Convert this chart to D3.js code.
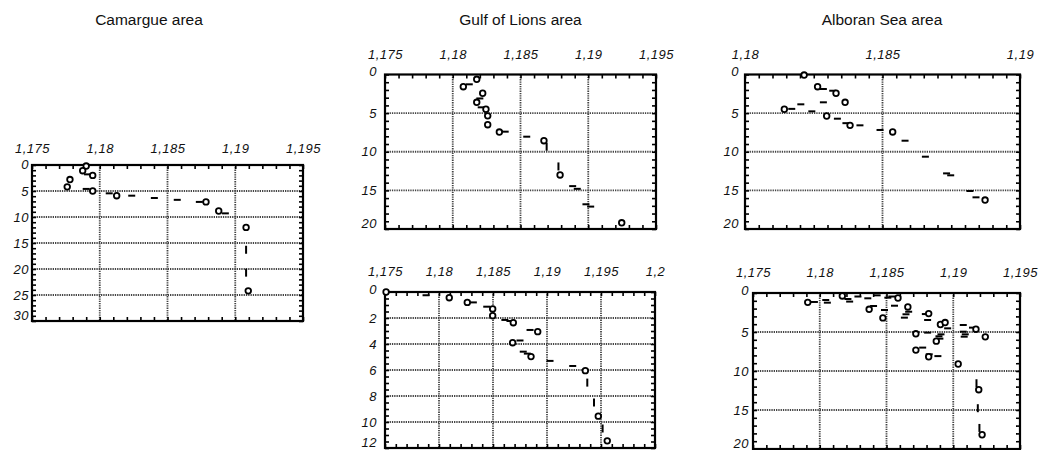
<!DOCTYPE html>
<html><head><meta charset="utf-8">
<script src="https://cdn.jsdelivr.net/npm/d3@7"></script>
<style>
body{margin:0;background:#fff;}
svg{display:block;font-family:"Liberation Sans",Arial,Helvetica,sans-serif;}
</style></head><body>
<svg id="chart" width="1046" height="450"></svg>
<script>
// ---------- DATA (density, depth) ----------
const titles = ["Camargue area", "Gulf of Lions area", "Alboran Sea area"];

// tick values
const xTicksA = [1.175, 1.18, 1.185, 1.19, 1.195];
const xTicksB = [1.175, 1.18, 1.185, 1.19, 1.195, 1.2];
const xTicksC = [1.18, 1.185, 1.19];
const yTicks30 = [0, 5, 10, 15, 20, 25, 30];
const yTicks20 = [0, 5, 10, 15, 20];
const yTicks12 = [0, 2, 4, 6, 8, 10, 12];

// Camargue
const camargueCircles = [[1.1790,0.2],[1.17874,1.1],[1.17948,2.0],[1.1778,2.8],[1.1776,4.2],[1.17948,5.0],[1.18125,5.9],[1.18784,7.1],[1.18878,8.85],[1.1908,12.0],[1.19096,24.2]];
const camargueDashH = [[1.1791,1.8],[1.1790,4.6],[1.1807,5.45],[1.18236,5.9],[1.18403,6.35],[1.18572,6.7],[1.18735,7.1],[1.18927,9.3]];
const camargueDashV = [[1.1908,16.3],[1.1908,20.7]];

// Gulf of Lions (upper)
const lionsACircles = [[1.18078,1.58],[1.18177,0.62],[1.18221,2.43],[1.18177,3.6],[1.18245,4.5],[1.18258,5.35],[1.18258,6.5],[1.18344,7.45],[1.18673,8.57],[1.18792,13.0],[1.19247,19.2]];
const lionsADashH = [[1.18122,1.27],[1.1820,3.1],[1.1821,4.25],[1.18387,7.4],[1.18546,8.05],[1.18885,14.45],[1.18919,14.8],[1.18983,16.8],[1.19018,17.1]];
const lionsADashV = [[1.18693,9.35],[1.1878,11.9]];

// Gulf of Lions (lower)
const lionsBCircles = [[1.1751,0.0],[1.18095,0.44],[1.18262,0.8],[1.18497,1.3],[1.18497,1.82],[1.18688,2.36],[1.18914,3.05],[1.18682,3.9],[1.18852,4.97],[1.19355,6.05],[1.19475,9.55],[1.19558,11.45]];
const lionsBDashH = [[1.1788,0.25],[1.18318,0.8],[1.18442,1.13],[1.1861,2.15],[1.18657,2.23],[1.18843,2.92],[1.1875,3.73],[1.1878,4.59],[1.18818,4.74],[1.19028,5.3],[1.19238,5.69]];
const lionsBDashV = [[1.19373,6.97],[1.19435,8.5],[1.19515,10.5]];

// Alboran Sea (upper)
const alboranACircles = [[1.18215,0.07],[1.18264,1.58],[1.18331,2.43],[1.18364,3.6],[1.18143,4.5],[1.18297,5.37],[1.18382,6.58],[1.18537,7.44],[1.18873,16.25]];
const alboranADashH = [[1.18285,1.88],[1.18319,2.1],[1.18285,3.6],[1.18203,3.86],[1.1817,4.45],[1.18243,4.77],[1.18336,5.72],[1.18367,6.3],[1.18418,6.58],[1.18491,7.18],[1.18582,8.57],[1.18656,10.64],[1.18733,12.8],[1.18748,13.05],[1.18818,15.08],[1.1884,15.9]];
const alboranADashV = [];

// Alboran Sea (lower)
const alboranBCircles = [[1.1791,1.2],[1.18169,0.38],[1.1837,2.09],[1.18473,3.19],[1.18586,0.64],[1.1866,1.79],[1.18816,2.64],[1.18904,4.04],[1.18939,3.79],[1.1872,5.23],[1.18873,6.17],[1.1872,7.32],[1.18816,8.17],[1.19037,9.1],[1.1917,4.64],[1.1924,5.62],[1.19191,12.4],[1.19216,18.17]];
const alboranBDashH = [[1.1796,1.15],[1.18045,0.9],[1.18057,1.24],[1.18211,0.77],[1.18224,1.1],[1.18286,0.45],[1.1836,0.68],[1.1843,0.3],[1.1851,0.6],[1.1854,0.45],[1.18403,1.67],[1.18485,2.18],[1.1856,1.63],[1.18666,2.4],[1.18646,2.73],[1.18634,3.16],[1.18791,2.7],[1.18808,3.46],[1.18958,4.53],[1.18808,5.08],[1.18908,5.3],[1.18893,5.55],[1.1890,5.85],[1.18771,7.0],[1.1882,7.86],[1.18885,8.09],[1.19075,4.1],[1.19075,4.96],[1.1909,5.3],[1.19082,5.6],[1.19144,4.44]];
const alboranBDashV = [[1.19174,11.57],[1.19184,14.77],[1.19196,17.3]];

// ---------- LAYOUT ----------
const panels = [
  {title:titles[0], box:[32,303,165,321], xd:[1.175,1.195], yd:[0,30], xt:xTicksA, yt:yTicks30, xm:0.001, ym:1, lblOff:12, ygap:3, dy0:"0.25em",
   c:camargueCircles, h:camargueDashH, v:camargueDashV, titleX:149, titleY:25},
  {title:titles[1], box:[385,656,74.5,229], xd:[1.175,1.195], yd:[0,20], xt:xTicksA, yt:yTicks20, xm:0.001, ym:1, lblOff:16, ygap:8, dy0:"0.1em",
   c:lionsACircles, h:lionsADashH, v:lionsADashV, titleX:520.5, titleY:25},
  {title:null, box:[385,655,292,448], xd:[1.175,1.2], yd:[0,12], xt:xTicksB, yt:yTicks12, xm:0.001, ym:0.5, lblOff:16, ygap:8, dy0:"0.1em",
   c:lionsBCircles, h:lionsBDashH, v:lionsBDashV},
  {title:titles[2], box:[745,1020,74.5,229], xd:[1.18,1.19], yd:[0,20], xt:xTicksC, yt:yTicks20, xm:0.0005, ym:1, lblOff:16, ygap:6, dy0:"0.1em",
   c:alboranACircles, h:alboranADashH, v:alboranADashV, titleX:882, titleY:25},
  {title:null, box:[753,1020,293,449], xd:[1.175,1.195], yd:[0,20], xt:xTicksA, yt:yTicks20, xm:0.001, ym:1, lblOff:16, ygap:4, dy0:"0.1em",
   c:alboranBCircles, h:alboranBDashH, v:alboranBDashV}
];

const svg = d3.select("#chart");
const fmtX = v => d3.format(".3~f")(v).replace(".", ",");

panels.forEach(p => {
  const [L,R,T,B] = p.box;
  const x = d3.scaleLinear().domain(p.xd).range([L,R]);
  const y = d3.scaleLinear().domain(p.yd).range([T,B]);
  const g = svg.append("g");

  if (p.title) {
    g.append("text").attr("x",p.titleX).attr("y",p.titleY).attr("text-anchor","middle")
      .attr("font-size",15.5).attr("fill","#111").text(p.title);
  }

  // grid (interior major ticks)
  const xg = p.xt.filter(v => v > p.xd[0]+1e-9 && v < p.xd[1]-1e-9);
  const yg = p.yt.filter(v => v > p.yd[0]+1e-9 && v < p.yd[1]-1e-9);
  g.append("g").selectAll("line").data(xg).join("line")
    .attr("x1",d=>x(d)).attr("x2",d=>x(d)).attr("y1",T).attr("y2",B)
    .attr("stroke","#444").attr("stroke-width",1.8).attr("stroke-dasharray","1.3,1");
  g.append("g").selectAll("line").data(yg).join("line")
    .attr("y1",d=>y(d)).attr("y2",d=>y(d)).attr("x1",L).attr("x2",R)
    .attr("stroke","#444").attr("stroke-width",1.8).attr("stroke-dasharray","1.3,1");

  // minor ticks inward on all sides, via d3 axes
  const nx = Math.round((p.xd[1]-p.xd[0])/p.xm);
  const xMinor = d3.range(nx+1).map(i => p.xd[0] + i*p.xm);
  const ny = Math.round((p.yd[1]-p.yd[0])/p.ym);
  const yMinor = d3.range(ny+1).map(i => p.yd[0] + i*p.ym);
  const tk = 4;
  const ax = [
    g.append("g").attr("transform",`translate(0,${T})`).call(d3.axisTop(x).tickValues(xMinor).tickSize(-tk).tickFormat("")),
    g.append("g").attr("transform",`translate(0,${B})`).call(d3.axisBottom(x).tickValues(xMinor).tickSize(-tk).tickFormat("")),
    g.append("g").attr("transform",`translate(${L},0)`).call(d3.axisLeft(y).tickValues(yMinor).tickSize(-tk).tickFormat("")),
    g.append("g").attr("transform",`translate(${R},0)`).call(d3.axisRight(y).tickValues(yMinor).tickSize(-tk).tickFormat(""))
  ];
  ax.forEach(a => { a.select(".domain").remove(); a.selectAll("line").attr("stroke","#000").attr("stroke-width",1.6); });

  // frame
  g.append("rect").attr("x",L).attr("y",T).attr("width",R-L).attr("height",B-T)
    .attr("fill","none").attr("stroke","#000").attr("stroke-width",2.2);

  // tick labels
  const xl = g.append("g").attr("transform",`translate(0,${T})`)
    .call(d3.axisTop(x).tickValues(p.xt).tickFormat(fmtX).tickSize(0).tickPadding(p.lblOff));
  xl.select(".domain").remove();
  const yl = g.append("g").attr("transform",`translate(${L},0)`)
    .call(d3.axisLeft(y).tickValues(p.yt).tickFormat(d3.format("d")).tickSize(0).tickPadding(p.ygap));
  yl.select(".domain").remove();
  [xl, yl].forEach(a => a.selectAll("text").attr("font-size",13).attr("font-style","italic")
     .attr("letter-spacing","0.5px")
     .attr("font-family",'"Liberation Sans",Arial,sans-serif').attr("fill","#111"));
  yl.selectAll("text").attr("dy", (d,i,n) => i===0 ? p.dy0 : (i===n.length-1 ? "-0.15em" : "0.32em"));

  // dash marks
  g.append("g").selectAll("line").data(p.h).join("line")
    .attr("x1",d=>x(d[0])-3.5).attr("x2",d=>x(d[0])+3.5).attr("y1",d=>y(d[1])).attr("y2",d=>y(d[1]))
    .attr("stroke","#000").attr("stroke-width",2);
  g.append("g").selectAll("line").data(p.v).join("line")
    .attr("x1",d=>x(d[0])).attr("x2",d=>x(d[0])).attr("y1",d=>y(d[1])-4).attr("y2",d=>y(d[1])+4)
    .attr("stroke","#000").attr("stroke-width",2);
  // circles
  g.append("g").selectAll("circle").data(p.c).join("circle")
    .attr("cx",d=>x(d[0])).attr("cy",d=>y(d[1])).attr("r",2.8)
    .attr("fill","#fff").attr("stroke","#000").attr("stroke-width",1.8);
});
</script>
</body></html>
